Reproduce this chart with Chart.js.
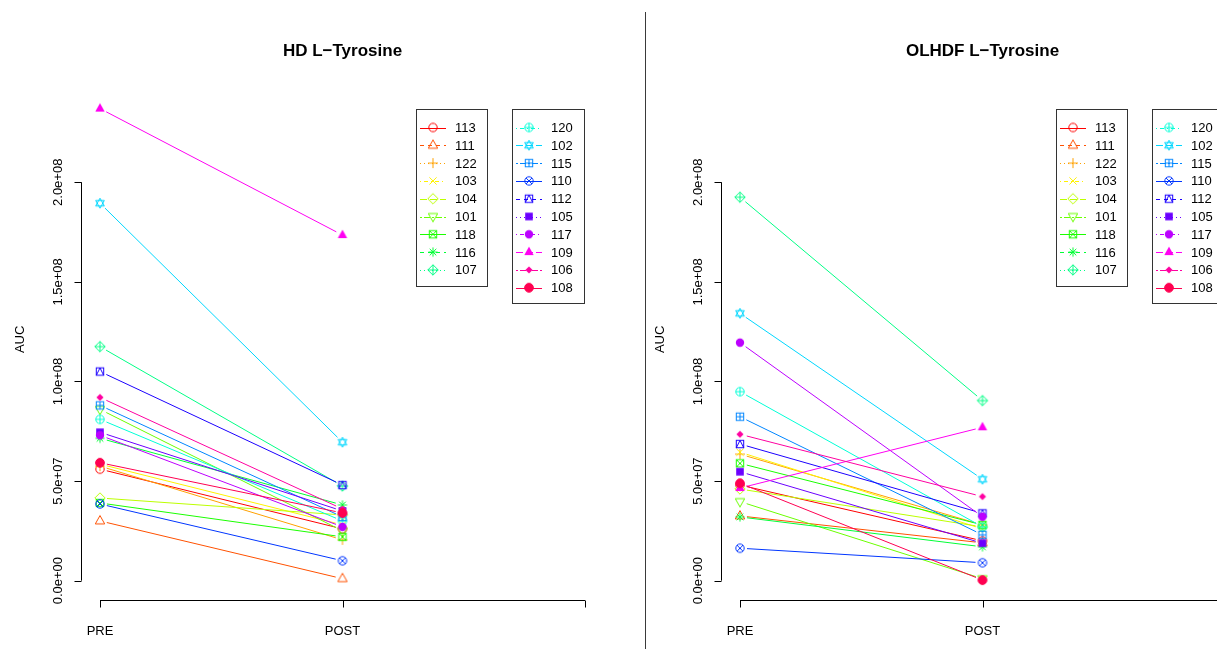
<!DOCTYPE html>
<html>
<head>
<meta charset="utf-8">
<title>L-Tyrosine AUC, PRE vs POST</title>
<script src="https://cdn.jsdelivr.net/npm/chart.js@4.4.1/dist/chart.umd.min.js"></script>
<style>
  body { margin: 0; background: #fff; overflow: hidden; }
  #wrap { position: relative; width: 1217px; height: 649px; overflow: hidden; background: #fff; }
  #wrap canvas { position: absolute; top: 0; }
  #hd { left: 0; }
  #olhdf { left: 640px; }
  #divider { position: absolute; left: 645px; top: 12px; width: 1px; height: 637px; background: #3a3a3a; }
</style>
</head>
<body>
<div id="wrap">
  <canvas id="hd" width="640" height="649"></canvas>
  <canvas id="olhdf" width="640" height="649"></canvas>
  <div id="divider"></div>
</div>
<script>
// patients, in plotting order
const ids = ['113', '111', '122', '103', '104', '101', '118', '116', '107', '120',
             '102', '115', '110', '112', '105', '117', '109', '106', '108'];

const xLabels = ['PRE', 'POST', ''];
const yTicks = [0, 5e7, 1e8, 1.5e8, 2e8];
const yTickLabels = ['0.0e+00', '5.0e+07', '1.0e+08', '1.5e+08', '2.0e+08'];

// AUC values, HD
const hdPre  = [5.6e7, 3.0e7, 5.75e7, 5.85e7, 4.15e7, 8.6e7, 3.9e7, 7.15e7, 11.75e7, 8.1e7,
                18.95e7, 8.8e7, 3.85e7, 10.5e7, 7.45e7, 7.3e7, 23.7e7, 9.2e7, 5.92e7];
const hdPost = [2.6e7, 0.1e7, 2.05e7, 2.8e7, 3.3e7, 2.5e7, 2.2e7, 3.8e7, 4.75e7, 3.0e7,
                6.95e7, 3.2e7, 1.0e7, 4.8e7, 3.5e7, 2.7e7, 17.35e7, 3.6e7, 3.4e7];

// AUC values, OLHDF
const olPre  = [4.8e7, 3.25e7, 6.35e7, 6.45e7, 4.6e7, 3.97e7, 5.89e7, 3.2e7, 19.25e7, 9.49e7,
                13.42e7, 8.23e7, 1.63e7, 6.86e7, 5.47e7, 11.95e7, 4.65e7, 7.35e7, 4.89e7];
const olPost = [2.0e7, 1.9e7, 2.8e7, 2.6e7, 2.7e7, 0.1e7, 2.8e7, 1.7e7, 9.04e7, 2.7e7,
                5.09e7, 2.3e7, 0.9e7, 3.38e7, 1.88e7, 3.21e7, 7.7e7, 4.22e7, 0.03e7];

// rainbow(19)
const colors = ['#FF0000', '#FF5100', '#FFA100', '#FFF200', '#BCFF00', '#6BFF00', '#1BFF00',
                '#00FF36', '#00FF86', '#00FFD7', '#00D7FF', '#0086FF', '#0036FF', '#1B00FF',
                '#6B00FF', '#BC00FF', '#FF00F2', '#FF00A1', '#FF0051'];
const pchs = [1, 2, 3, 4, 5, 6, 7, 8, 9, 10, 11, 12, 13, 14, 15, 16, 17, 18, 19];
const ltyDash = [[], [4, 4], [1, 3], [1, 3, 4, 3], [7, 3], [2, 2, 6, 2]];

const FONT = "'Liberation Sans', Arial, sans-serif";
const GAP = 7; // type="b" style gap around each point

// little R-like plotting symbols drawn on their own canvas
function makeSymbol(pch, col) {
  const c = document.createElement('canvas');
  c.width = 16; c.height = 16;
  const g = c.getContext('2d');
  g.strokeStyle = col; g.fillStyle = col; g.lineWidth = 1;
  const m = 8;
  function circle(r, fill) {
    g.beginPath(); g.arc(m, m, r, 0, 2 * Math.PI);
    if (fill) g.fill(); else g.stroke();
  }
  function square(h, fill) {
    if (fill) g.fillRect(m - h, m - h, 2 * h, 2 * h);
    else g.strokeRect(m - h, m - h, 2 * h, 2 * h);
  }
  function tri(h, down, fill) {
    const s = down ? -1 : 1;
    g.beginPath();
    g.moveTo(m, m - s * h);
    g.lineTo(m + h * 0.87, m + s * h * 0.55);
    g.lineTo(m - h * 0.87, m + s * h * 0.55);
    g.closePath();
    if (fill) g.fill(); else g.stroke();
  }
  function diamond(h, fill) {
    g.beginPath();
    g.moveTo(m, m - h); g.lineTo(m + h, m); g.lineTo(m, m + h); g.lineTo(m - h, m);
    g.closePath();
    if (fill) g.fill(); else g.stroke();
  }
  function plus(h) {
    g.beginPath();
    g.moveTo(m - h, m); g.lineTo(m + h, m);
    g.moveTo(m, m - h); g.lineTo(m, m + h);
    g.stroke();
  }
  function cross(h) {
    g.beginPath();
    g.moveTo(m - h, m - h); g.lineTo(m + h, m + h);
    g.moveTo(m - h, m + h); g.lineTo(m + h, m - h);
    g.stroke();
  }
  switch (pch) {
    case 1: circle(4.2); break;
    case 2: tri(5.4); break;
    case 3: plus(5); break;
    case 4: cross(3.6); break;
    case 5: diamond(5.2); break;
    case 6: tri(5.4, true); break;
    case 7: square(3.7); cross(3.7); break;
    case 8: plus(4.6); cross(3.3); break;
    case 9: diamond(5.2); plus(5.2); break;
    case 10: circle(4.2); plus(4.2); break;
    case 11: tri(5); tri(5, true); break;
    case 12: square(3.7); plus(3.7); break;
    case 13: circle(4.2); cross(3); break;
    case 14:
      square(3.7);
      g.beginPath(); g.moveTo(m - 3.7, m + 3.7); g.lineTo(m, m - 3.7); g.lineTo(m + 3.7, m + 3.7); g.stroke();
      break;
    case 15: square(3.8, true); break;
    case 16: circle(4.2, true); break;
    case 17: tri(5.4, false, true); break;
    case 18: diamond(3.6, true); break;
    case 19: circle(4.4, true); circle(4.4); break;
  }
  return c;
}

const symbols = ids.map((_, i) => makeSymbol(pchs[i], colors[i]));

// leave a gap at both ends of each segment
function gapDash(ctx) {
  const L = Math.hypot(ctx.p1.x - ctx.p0.x, ctx.p1.y - ctx.p0.y);
  return [Math.max(L - 2 * GAP, 0), 2 * GAP];
}

// base-graphics look: short axes, rotated y labels, title and boxed legends
const rStyle = {
  id: 'rStyle',
  afterDraw(chart, args, opts) {
    const ctx = chart.ctx;
    const xs = chart.scales.x, ys = chart.scales.y, area = chart.chartArea;
    ctx.save();
    ctx.strokeStyle = '#000';
    ctx.fillStyle = '#000';
    ctx.lineWidth = 1;

    // y axis
    const ax = Math.round(area.left) + 0.5;
    ctx.beginPath();
    ctx.moveTo(ax, ys.getPixelForValue(yTicks[0]));
    ctx.lineTo(ax, ys.getPixelForValue(yTicks[yTicks.length - 1]));
    yTicks.forEach(v => {
      const py = Math.round(ys.getPixelForValue(v)) + 0.5;
      ctx.moveTo(ax, py); ctx.lineTo(ax - 7, py);
    });
    ctx.stroke();
    ctx.font = '13px ' + FONT;
    ctx.textAlign = 'center';
    ctx.textBaseline = 'alphabetic';
    yTicks.forEach((v, k) => {
      ctx.save();
      ctx.translate(area.left - 19, ys.getPixelForValue(v));
      ctx.rotate(-Math.PI / 2);
      ctx.fillText(yTickLabels[k], 0, 0);
      ctx.restore();
    });
    ctx.save();
    ctx.translate(area.left - 57, (area.top + area.bottom) / 2);
    ctx.rotate(-Math.PI / 2);
    ctx.fillText('AUC', 0, 0);
    ctx.restore();

    // x axis
    const ay = Math.round(area.bottom) + 0.5;
    ctx.beginPath();
    ctx.moveTo(xs.getPixelForValue(1), ay);
    ctx.lineTo(xs.getPixelForValue(3), ay);
    [1, 2, 3].forEach(v => {
      const px = Math.round(xs.getPixelForValue(v)) + 0.5;
      ctx.moveTo(px, ay); ctx.lineTo(px, ay + 7);
    });
    ctx.stroke();
    xLabels.forEach((lab, k) => {
      ctx.fillText(lab, xs.getPixelForValue(k + 1), area.bottom + 35);
    });

    // title
    ctx.font = 'bold 17px ' + FONT;
    ctx.fillText(opts.title, (area.left + area.right) / 2, 56);

    // legends: two boxed columns
    ctx.font = '13px ' + FONT;
    ctx.textAlign = 'left';
    ctx.textBaseline = 'middle';
    const boxes = [
      { x: 416.5, y: 109.5, w: 71, h: 177, from: 0, to: 9, lx: 420, ls: 433, tx: 455 },
      { x: 512.5, y: 109.5, w: 72, h: 194, from: 9, to: 19, lx: 516, ls: 529, tx: 551 }
    ];
    boxes.forEach(b => {
      ctx.strokeStyle = '#333';
      ctx.setLineDash([]);
      ctx.strokeRect(b.x, b.y, b.w, b.h);
      for (let i = b.from; i < b.to; i++) {
        const ry = 127.5 + (i - b.from) * 17.8;
        ctx.strokeStyle = colors[i];
        ctx.setLineDash(ltyDash[i % 6]);
        ctx.beginPath();
        ctx.moveTo(b.lx, Math.round(ry) + 0.5);
        ctx.lineTo(b.lx + 26, Math.round(ry) + 0.5);
        ctx.stroke();
        ctx.drawImage(symbols[i], b.ls - 8, ry - 8);
        ctx.fillStyle = '#000';
        ctx.fillText(ids[i], b.tx, ry + 1);
      }
    });
    ctx.restore();
  }
};

function buildPanel(canvasId, title, pre, post) {
  const datasets = ids.map((name, i) => ({
    label: name,
    data: [{ x: 1, y: pre[i] }, { x: 2, y: post[i] }],
    borderColor: colors[i],
    backgroundColor: colors[i],
    borderWidth: 1,
    tension: 0,
    pointStyle: symbols[i],
    pointRadius: 4,
    order: ids.length - i,
    segment: { borderDash: gapDash, borderDashOffset: -GAP }
  }));

  return new Chart(document.getElementById(canvasId), {
    type: 'line',
    data: { datasets },
    options: {
      responsive: false,
      animation: false,
      devicePixelRatio: 1,
      events: [],
      layout: { padding: { left: 80.6, right: 35.6, top: 78.7, bottom: 49 } },
      scales: {
        x: { type: 'linear', display: false, min: 0.92, max: 3.08 },
        y: { type: 'linear', display: false, min: -0.97e7, max: 25.2e7 }
      },
      plugins: {
        legend: { display: false },
        tooltip: { enabled: false },
        rStyle: { title: title }
      }
    },
    plugins: [rStyle]
  });
}

buildPanel('hd', 'HD L\u2212Tyrosine', hdPre, hdPost);
buildPanel('olhdf', 'OLHDF L\u2212Tyrosine', olPre, olPost);
</script>
</body>
</html>
